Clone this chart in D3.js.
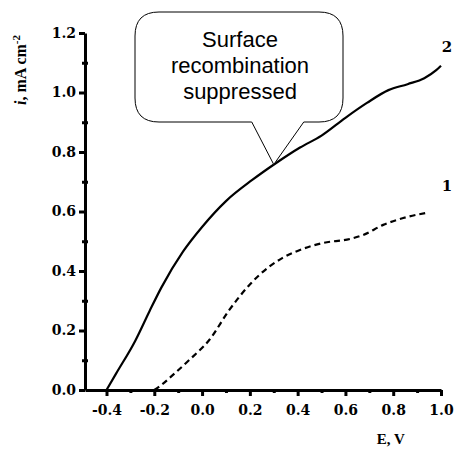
<!DOCTYPE html>
<html>
<head>
<meta charset="utf-8">
<script src="https://cdn.jsdelivr.net/npm/d3@7"></script>
<style>
  body { margin: 0; background: #fff; }
  svg { display: block; }
  .axis .domain, .axis line { stroke: #000 !important; stroke-width: 3px !important; }
</style>
</head>
<body>
<div id="chart"></div>
<script>
// --------------- Data ---------------
const curve2E = [-0.40, -0.36, -0.28, -0.22, -0.17, -0.08, 0.00, 0.10, 0.21, 0.31, 0.41, 0.50, 0.60, 0.69, 0.78, 0.86, 0.93, 0.98, 1.00];
const curve2I = [0.00, 0.055, 0.165, 0.265, 0.345, 0.465, 0.548, 0.635, 0.706, 0.763, 0.815, 0.855, 0.915, 0.965, 1.008, 1.028, 1.048, 1.075, 1.09];
const curve1E = [-0.20, -0.17, -0.13, -0.055, 0.03, 0.114, 0.198, 0.24, 0.337, 0.42, 0.505, 0.62, 0.674, 0.758, 0.842, 0.935];
const curve1I = [0.00, 0.017, 0.045, 0.10, 0.168, 0.269, 0.353, 0.387, 0.444, 0.474, 0.494, 0.508, 0.521, 0.555, 0.578, 0.595];
const xMajor = [-0.4, -0.2, 0.0, 0.2, 0.4, 0.6, 0.8, 1.0];
const xMinor = [-0.3, -0.1, 0.1, 0.3, 0.5, 0.7, 0.9];
const yMajor = [0.0, 0.2, 0.4, 0.6, 0.8, 1.0, 1.2];
const yMinor = [0.1, 0.3, 0.5, 0.7, 0.9, 1.1];
const calloutLines = ["Surface", "recombination", "suppressed"];
const calloutAt = [0.30, 0.758];

// --------------- Constants ---------------
const WIDTH = 457;
const HEIGHT = 450;
const MARGINS = { top: 33, right: 16, bottom: 60, left: 85 };
const SERIF = "'Liberation Serif', 'DejaVu Serif', serif";
const TICK_FONT = "'DejaVu Serif', serif";

const X_SCALE = d3.scaleLinear().domain([-0.49, 1.0]).range([MARGINS.left, WIDTH - MARGINS.right]);
const Y_SCALE = d3.scaleLinear().domain([0, 1.2]).range([HEIGHT - MARGINS.bottom, MARGINS.top]);

const svg = d3.select("#chart").append("svg").attr("width", WIDTH).attr("height", HEIGHT);

// Axes
const fmt = (d) => d3.format(".1f")(d).replace("−", "-");

const xAxis = svg.append("g")
  .attr("class", "axis")
  .attr("transform", `translate(0,${Y_SCALE(0)})`)
  .call(d3.axisBottom(X_SCALE).tickValues(xMajor).tickSize(6).tickSizeOuter(0).tickPadding(9).tickFormat(fmt));
xAxis.append("g").selectAll("line").data(xMinor).enter().append("line")
  .attr("x1", (d) => X_SCALE(d) + 0.5).attr("x2", (d) => X_SCALE(d) + 0.5)
  .attr("y1", 0).attr("y2", 3);

const yAxis = svg.append("g")
  .attr("class", "axis")
  .attr("transform", `translate(${X_SCALE.range()[0]},0)`)
  .call(d3.axisLeft(Y_SCALE).tickValues(yMajor).tickSize(6).tickSizeOuter(0).tickPadding(3).tickFormat(fmt));
yAxis.append("g").selectAll("line").data(yMinor).enter().append("line")
  .attr("y1", (d) => Y_SCALE(d) + 0.5).attr("y2", (d) => Y_SCALE(d) + 0.5)
  .attr("x1", -3).attr("x2", 3);

[xAxis, yAxis].forEach((ax) => {
  ax.attr("font-family", TICK_FONT).attr("font-size", 14).attr("font-weight", "bold");
  ax.selectAll(".tick text").attr("fill", "#000");
});

// Axis titles
svg.append("text")
  .attr("transform", "translate(26,70) rotate(-90)")
  .attr("text-anchor", "middle")
  .attr("font-family", SERIF)
  .attr("font-weight", "bold").attr("font-size", 16)
  .html('<tspan font-style="italic">i</tspan>, mA cm<tspan dy="-6" font-size="11">-2</tspan>');

svg.append("text")
  .attr("x", X_SCALE(0.79)).attr("y", 444)
  .attr("text-anchor", "middle")
  .attr("font-family", SERIF)
  .attr("font-weight", "bold").attr("font-size", 15)
  .text("E, V");

// Curves
const line = d3.line()
  .x((d) => X_SCALE(d[0]))
  .y((d) => Y_SCALE(d[1]))
  .curve(d3.curveMonotoneX);

svg.append("path")
  .datum(d3.zip(curve2E, curve2I))
  .attr("d", line)
  .attr("fill", "none").attr("stroke", "#000").attr("stroke-width", 2.2);

svg.append("path")
  .datum(d3.zip(curve1E, curve1I))
  .attr("d", line)
  .attr("fill", "none").attr("stroke", "#000").attr("stroke-width", 2.2)
  .attr("stroke-dasharray", "6,4");

// Curve labels
const labelFont = (sel) => sel.attr("font-family", TICK_FONT).attr("font-weight", "bold").attr("font-size", 15);
svg.append("text").attr("x", X_SCALE(1.0) + 6).attr("y", Y_SCALE(1.135)).attr("text-anchor", "middle").call(labelFont).text("2");
svg.append("text").attr("x", X_SCALE(1.0) + 6).attr("y", Y_SCALE(0.67)).attr("text-anchor", "middle").call(labelFont).text("1");

// Callout bubble pointing at curve 2
const tip = [X_SCALE(calloutAt[0]), Y_SCALE(calloutAt[1])];
const box = { x0: 135, x1: 343, y0: 12, y1: 122, r: 24 };
const p0 = tip[0] - 22, p1 = tip[0] + 30;
const bubble = d3.path();
bubble.moveTo(box.x0 + box.r, box.y0);
bubble.lineTo(box.x1 - box.r, box.y0);
bubble.quadraticCurveTo(box.x1, box.y0, box.x1, box.y0 + box.r);
bubble.lineTo(box.x1, box.y1 - box.r);
bubble.quadraticCurveTo(box.x1, box.y1, box.x1 - box.r, box.y1);
bubble.lineTo(p1, box.y1);
bubble.lineTo(tip[0], tip[1]);
bubble.lineTo(p0, box.y1);
bubble.lineTo(box.x0 + box.r, box.y1);
bubble.quadraticCurveTo(box.x0, box.y1, box.x0, box.y1 - box.r);
bubble.lineTo(box.x0, box.y0 + box.r);
bubble.quadraticCurveTo(box.x0, box.y0, box.x0 + box.r, box.y0);
bubble.closePath();

svg.append("path")
  .attr("d", bubble.toString())
  .attr("fill", "#fff").attr("stroke", "#000").attr("stroke-width", 1);

svg.append("g").selectAll("text").data(calloutLines).enter().append("text")
  .attr("x", (box.x0 + box.x1) / 2 + 1)
  .attr("y", (_d, k) => 47 + k * 26)
  .attr("text-anchor", "middle")
  .attr("font-family", "'Liberation Sans', Arial, sans-serif")
  .attr("font-size", 22)
  .text((d) => d);
</script>
</body>
</html>
